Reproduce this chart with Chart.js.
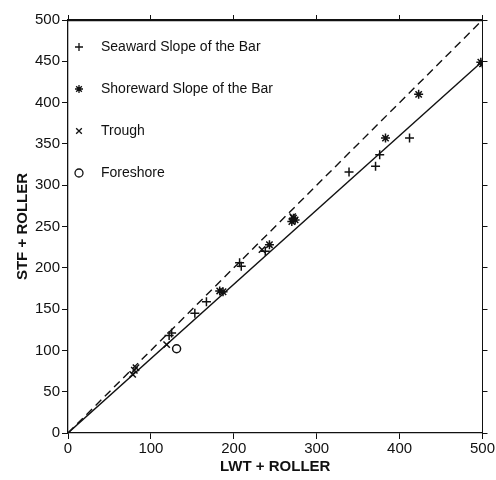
<!DOCTYPE html>
<html>
<head>
<meta charset="utf-8">
<script src="https://cdn.jsdelivr.net/npm/chart.js@4"></script>
<style>
  html, body { margin: 0; padding: 0; background: #fff; }
</style>
</head>
<body>
<canvas id="scatter" width="496" height="480"></canvas>
<script>
// point groups, [LWT + ROLLER, STF + ROLLER]
const seaward = [[125, 121], [122, 118], [153, 145], [167, 159], [209, 202], [207, 206],
  [238, 220], [339, 316], [371, 323], [376, 337], [412, 357]];
const shoreward = [[183, 172], [187, 171], [243, 228], [270, 256], [272, 260], [274, 258],
  [383, 357], [423, 410], [498, 449], [500, 447]];
const trough = [[78, 71], [80, 76], [82, 79], [119, 107], [234, 222], [271, 262]];
const foreshore = [[131, 102]];

const oneToOne = [[0, 0], [500, 500]];
const fitLine = [[0, 0], [500, 450]];

const legendLabels = ["Seaward Slope of the Bar", "Shoreward Slope of the Bar", "Trough", "Foreshore"];
const xTicks = [0, 100, 200, 300, 400, 500];
const yTicks = [0, 50, 100, 150, 200, 250, 300, 350, 400, 450, 500];

const toXY = arr => arr.map(p => ({ x: p[0], y: p[1] }));
const FONT = "'Liberation Sans', Arial, sans-serif";

function markSet(label, pts, style, r) {
  return {
    label: label,
    data: toXY(pts),
    pointStyle: style,
    pointRadius: r,
    borderColor: "#111",
    backgroundColor: "#fff",
    borderWidth: 1.5,
    showLine: false
  };
}

const axisGrid = {
  drawOnChartArea: false,
  drawTicks: true,
  tickLength: 6,
  color: "#111"
};

// draws legend rows inside the plot, upper left
const legendPlugin = {
  id: "innerLegend",
  afterDraw(chart) {
    const ctx = chart.ctx;
    const styles = ["cross", "star", "crossRot", "circle"];
    ctx.save();
    ctx.font = "14px " + FONT;
    ctx.strokeStyle = "#111";
    ctx.textBaseline = "middle";
    legendLabels.forEach((t, i) => {
      const y = 47 + i * 42;
      ctx.lineWidth = 1.3;
      ctx.fillStyle = "#fff";
      Chart.helpers.drawPoint(ctx, {
        pointStyle: styles[i], radius: 4, borderWidth: 1.3
      }, 79, y);
      ctx.fillStyle = "#111";
      ctx.fillText(t, 101, y);
    });
    ctx.restore();
  }
};

new Chart(document.getElementById("scatter"), {
  type: "scatter",
  data: {
    datasets: [
      markSet(legendLabels[0], seaward, "cross", 4.5),
      markSet(legendLabels[1], shoreward, "star", 4.5),
      markSet(legendLabels[2], trough, "crossRot", 4.5),
      markSet(legendLabels[3], foreshore, "circle", 4),
      {
        label: "1:1",
        data: toXY(oneToOne),
        showLine: true,
        borderColor: "#111",
        borderWidth: 1.4,
        borderDash: [8, 5],
        pointRadius: 0
      },
      {
        label: "fit",
        data: toXY(fitLine),
        showLine: true,
        borderColor: "#111",
        borderWidth: 1.4,
        pointRadius: 0
      }
    ]
  },
  options: {
    responsive: false,
    animation: false,
    devicePixelRatio: 1,
    layout: { padding: { top: 20, right: 12, left: 0, bottom: 0 } },
    plugins: { legend: { display: false }, tooltip: { enabled: false } },
    scales: {
      x: {
        type: "linear", min: 0, max: 500,
        afterBuildTicks: a => { a.ticks = xTicks.map(v => ({ value: v })); },
        afterFit: a => { a.height = 47; },
        grid: axisGrid,
        border: { color: "#111", width: 1.3 },
        ticks: { color: "#111", padding: 1, autoSkip: false, font: { family: FONT, size: 15 }, maxRotation: 0 },
        title: { display: true, text: "LWT + ROLLER", color: "#111", padding: { top: 0 },
          font: { family: FONT, size: 15, weight: "bold" } }
      },
      y: {
        type: "linear", min: 0, max: 500,
        afterBuildTicks: a => { a.ticks = yTicks.map(v => ({ value: v })); },
        afterFit: a => { a.width = 68; },
        grid: axisGrid,
        border: { color: "#111", width: 1.3 },
        ticks: { color: "#111", padding: 2, autoSkip: false, font: { family: FONT, size: 15 } },
        title: { display: true, text: "STF + ROLLER", color: "#111", padding: { top: 14 },
          font: { family: FONT, size: 15, weight: "bold" } }
      },
      x2: {
        type: "linear", position: "top", min: 0, max: 500,
        afterBuildTicks: a => { a.ticks = xTicks.map(v => ({ value: v })); },
        afterFit: a => { a.height = 0; },
        grid: { drawOnChartArea: false, tickLength: 5, color: "#111" },
        border: { color: "#111", width: 2.2 },
        ticks: { display: false, autoSkip: false }
      },
      y2: {
        type: "linear", position: "right", min: 0, max: 500,
        afterBuildTicks: a => { a.ticks = yTicks.map(v => ({ value: v })); },
        afterFit: a => { a.width = 0; },
        grid: { drawOnChartArea: false, tickLength: 5, color: "#111" },
        border: { color: "#111", width: 1 },
        ticks: { display: false, autoSkip: false }
      }
    }
  },
  plugins: [legendPlugin]
});
</script>
</body>
</html>
